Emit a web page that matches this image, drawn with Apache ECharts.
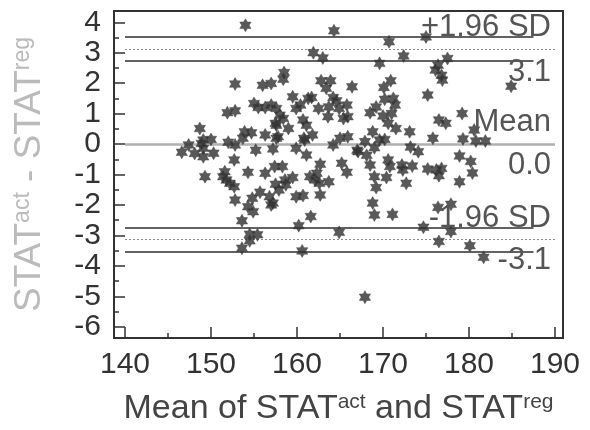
<!DOCTYPE html>
<html>
<head>
<meta charset="utf-8">
<script src="https://cdn.jsdelivr.net/npm/echarts@6/dist/echarts.min.js"></script>
<style>
  html, body { margin: 0; padding: 0; background: #fff; }
  #chart { width: 590px; height: 430px; }
</style>
</head>
<body>
<div id="chart"></div>
<script>
// Axis ticks
const xTicks = [140, 150, 160, 170, 180, 190];
const xMinorTicks = [145, 155, 165, 175, 185];
const yTicks = [-6, -5, -4, -3, -2, -1, 0, 1, 2, 3, 4];
const yMinorTicks = [-5.5, -4.5, -3.5, -2.5, -1.5, -0.5, 0.5, 1.5, 2.5, 3.5];

// Agreement statistics
const meanDiff = 0.0;
const upperLimit = 3.12;
const lowerLimit = -3.12;
const upperLimitCI = [2.75, 3.53];
const lowerLimitCI = [-2.75, -3.53];

// [mean of the two measurements, difference]
const points = [
  [154.0, 3.9], [164.3, 3.72], [175.0, 3.52], [170.7, 3.36], [161.9, 3.0], [163.0, 2.83],
  [169.6, 2.65], [172.4, 2.89], [177.5, 2.81], [176.4, 2.59], [176.1, 2.43], [176.8, 2.26],
  [176.9, 2.1], [184.9, 1.9], [175.2, 1.61],
  [158.5, 2.35], [158.4, 2.13], [157.0, 1.99], [156.0, 1.93], [152.8, 1.97], [162.8, 2.08],
  [163.9, 2.08], [163.4, 1.83], [166.4, 1.88], [170.1, 1.86], [170.9, 2.08],
  [159.5, 1.55], [161.3, 1.5], [161.7, 1.53], [159.9, 1.17], [160.4, 1.28], [162.5, 1.17],
  [164.2, 1.53], [164.6, 1.42], [163.7, 1.22], [164.9, 1.17], [165.8, 1.28],
  [163.6, 0.9], [165.4, 0.84], [165.9, 0.9], [160.7, 0.79], [161.1, 0.62], [161.8, 0.3],
  [159.0, 0.51], [158.0, 0.95], [158.4, 0.84], [157.5, 0.68], [157.6, 1.17], [157.0, 1.28],
  [155.0, 1.33], [155.5, 1.2], [156.3, 1.2], [151.9, 1.03], [152.8, 1.09], [148.7, 0.51],
  [149.1, 0.13], [150.0, 0.15], [153.9, 0.4], [154.7, 0.37], [153.7, 0.19], [156.3, 0.3],
  [157.6, 0.62], [157.6, 0.19], [152.0, 0.06], [157.8, 0.24],
  [160.8, 0.19], [165.0, 0.19], [165.9, 0.24], [167.9, 0.08], [168.5, 1.03], [169.2, 1.22],
  [170.2, 1.47], [171.2, 1.5], [171.4, 1.28], [170.0, 0.92], [171.0, 1.0], [170.6, 0.68],
  [171.5, 0.51], [168.8, 0.4], [170.2, 0.15], [173.1, 0.4],
  [179.2, 1.0], [176.5, 0.79], [177.3, 0.68], [180.6, 0.46], [175.8, 0.19], [179.3, 0.17],
  [180.8, 0.1], [181.9, 0.1],
  [164.2, -0.03], [169.0, -0.12], [173.2, -0.1], [167.1, -0.25], [168.1, -0.37], [168.5, -0.69],
  [170.6, -0.52], [170.8, -0.74], [172.2, -0.69], [173.4, -0.72], [175.2, -0.82], [176.2, -0.85],
  [176.8, -0.8], [178.9, -0.39], [180.2, -0.57], [180.4, -0.95], [176.5, -1.04], [178.9, -1.24],
  [174.1, -0.25],
  [162.7, -0.66], [165.2, -0.63], [165.8, -0.93], [169.0, -1.07], [170.4, -1.1], [172.7, -1.29],
  [169.2, -1.43], [172.3, -0.85],
  [157.2, -0.16], [159.9, -0.14], [160.9, 0.13], [161.1, -0.36], [167.0, -0.2], [169.6, 0.13],
  [157.4, -0.74], [158.3, -0.74], [159.5, -1.1], [161.5, -1.07], [162.1, -1.18], [162.6, -1.29],
  [163.7, -1.24], [157.5, -1.32], [158.7, -1.34], [157.9, -1.51], [157.2, -1.94], [159.9, -1.73],
  [160.7, -1.69], [162.7, -1.67], [158.6, -1.18], [162.3, -0.96],
  [168.8, -1.94], [169.0, -2.33], [171.1, -2.31], [161.6, -2.38], [160.2, -2.68], [164.9, -2.9],
  [160.6, -3.51], [167.9, -5.03], [174.7, -2.73], [176.5, -3.2], [177.9, -2.87], [180.1, -3.34],
  [181.7, -3.72], [176.4, -2.08], [177.9, -1.98],
  [146.6, -0.27], [147.4, -0.03], [148.1, -0.31], [148.9, 0.02], [149.1, -0.14], [149.1, -0.42],
  [150.3, -0.3], [152.8, -0.03], [152.7, -0.52], [149.3, -1.07], [151.6, -0.91], [151.4, -1.07],
  [151.8, -1.18], [152.2, -1.29], [152.7, -1.4], [154.3, -0.93], [155.2, -0.2], [156.3, -0.96],
  [155.7, -1.58], [154.8, -1.78], [156.8, -1.73], [157.0, -2.0], [152.8, -1.84], [154.3, -2.06],
  [154.9, -2.22], [153.6, -2.52], [154.5, -2.96], [155.4, -2.98], [154.5, -3.18], [153.6, -3.42]
];

// Horizontal extent of the reference lines
const lineFrom = 140;
const lineTo = 190;
const ciLineTo = 187.5;

const FONT = '"Liberation Sans", Arial, sans-serif';
const INK = '#333333';

// Six-pointed star marker
function hexagramPath() {
  let d = '';
  for (let k = 0; k < 12; k++) {
    const a = (-90 + 30 * k) * Math.PI / 180;
    const r = k % 2 === 0 ? 1 : 0.5774;
    d += (k ? 'L' : 'M') + (r * Math.cos(a)).toFixed(4) + ' ' + (r * Math.sin(a)).toFixed(4);
  }
  return 'path://' + d + 'Z';
}

function hLine(y, x0, x1, style) {
  return [{ coord: [x0, y], lineStyle: style }, { coord: [x1, y] }];
}

const solid = { color: '#2e2e2e', width: 1.6, type: 'solid' };
const dotted = { color: '#8a8a8a', width: 1, type: [2, 2] };
const meanStyle = { color: '#b0b0b0', width: 2.5, type: 'solid' };

const chart = echarts.init(document.getElementById('chart'), null, { renderer: 'canvas' });

const supRich = (color, size) => ({
  b: { fontSize: size, color: color, fontFamily: FONT },
  s: { fontSize: Math.round(size * 0.62), color: color, fontFamily: FONT, verticalAlign: 'top' }
});

const xRange = { min: 138.72, max: 190.93 };
const yRange = { min: -6.37, max: 4.37 };

chart.setOption({
  animation: false,
  grid: {
    left: 114, right: 27, top: 11, bottom: 92,
    show: true, borderColor: INK, borderWidth: 2,
    containLabel: false, outerBoundsMode: 'none'
  },
  xAxis: [
    {
      type: 'value', min: xRange.min, max: xRange.max, position: 'bottom',
      axisLine: { show: true, onZero: false, lineStyle: { color: INK, width: 2 } },
      axisTick: { show: true, inside: true, length: 11, customValues: xTicks, lineStyle: { color: INK, width: 1.5 } },
      axisLabel: { show: true, customValues: xTicks, fontSize: 30, color: INK, fontFamily: FONT, margin: 12 },
      splitLine: { show: false },
      name: '{b|Mean of STAT}{s|act}{b| and STAT}{s|reg}',
      nameLocation: 'middle', nameGap: 54,
      nameTextStyle: { rich: supRich('#444444', 34) }
    },
    {
      type: 'value', min: xRange.min, max: xRange.max, position: 'bottom',
      axisLine: { show: false, onZero: false },
      axisTick: { show: true, inside: true, length: 5, customValues: xMinorTicks, lineStyle: { color: INK, width: 1.5 } },
      axisLabel: { show: false },
      splitLine: { show: false }
    }
  ],
  yAxis: [
    {
      type: 'value', min: yRange.min, max: yRange.max, position: 'left',
      axisLine: { show: true, onZero: false, lineStyle: { color: INK, width: 2 } },
      axisTick: { show: true, inside: true, length: 11, customValues: yTicks, lineStyle: { color: INK, width: 1.5 } },
      axisLabel: { show: true, customValues: yTicks, fontSize: 30, color: INK, fontFamily: FONT, margin: 13 },
      splitLine: { show: false },
      name: '{b|STAT}{s|act}{b| - STAT}{s|reg}',
      nameLocation: 'middle', nameRotate: 90, nameGap: 66,
      nameTextStyle: { rich: supRich('#bbbbbb', 37) }
    },
    {
      type: 'value', min: yRange.min, max: yRange.max, position: 'left',
      axisLine: { show: false, onZero: false },
      axisTick: { show: true, inside: true, length: 5, customValues: yMinorTicks, lineStyle: { color: INK, width: 1.5 } },
      axisLabel: { show: false },
      splitLine: { show: false }
    }
  ],
  series: [
    {
      type: 'scatter',
      xAxisIndex: 0, yAxisIndex: 0,
      data: points,
      symbol: hexagramPath(),
      symbolSize: 13,
      symbolKeepAspect: true,
      itemStyle: { color: '#303030', borderColor: '#4a4a4a', borderWidth: 0.6 },
      z: 5,
      markLine: {
        silent: true,
        symbol: ['none', 'none'],
        label: { show: false },
        z: 2,
        data: [
          hLine(meanDiff, lineFrom, lineTo, meanStyle),
          hLine(upperLimit, lineFrom, lineTo, dotted),
          hLine(lowerLimit, lineFrom, lineTo, dotted),
          hLine(upperLimitCI[0], lineFrom, ciLineTo, solid),
          hLine(upperLimitCI[1], lineFrom, ciLineTo, solid),
          hLine(lowerLimitCI[0], lineFrom, ciLineTo, solid),
          hLine(lowerLimitCI[1], lineFrom, ciLineTo, solid)
        ]
      }
    }
  ]
});

// Line annotations, right-aligned inside the plot
const fmt = v => (Math.abs(v) < 0.05 ? 0 : v).toFixed(1);
const notes = [
  { text: '+1.96 SD', y: 27 },
  { text: fmt(upperLimit), y: 72 },
  { text: 'Mean', y: 122 },
  { text: fmt(meanDiff), y: 165 },
  { text: '-1.96 SD', y: 218 },
  { text: fmt(lowerLimit), y: 260 }
];
chart.setOption({
  graphic: notes.map(n => ({
    type: 'text', z: 50, silent: true,
    x: 551, y: n.y,
    style: {
      text: n.text, fill: '#555555', fontSize: 31, fontFamily: FONT,
      align: 'right', verticalAlign: 'middle'
    }
  }))
});
</script>
</body>
</html>
